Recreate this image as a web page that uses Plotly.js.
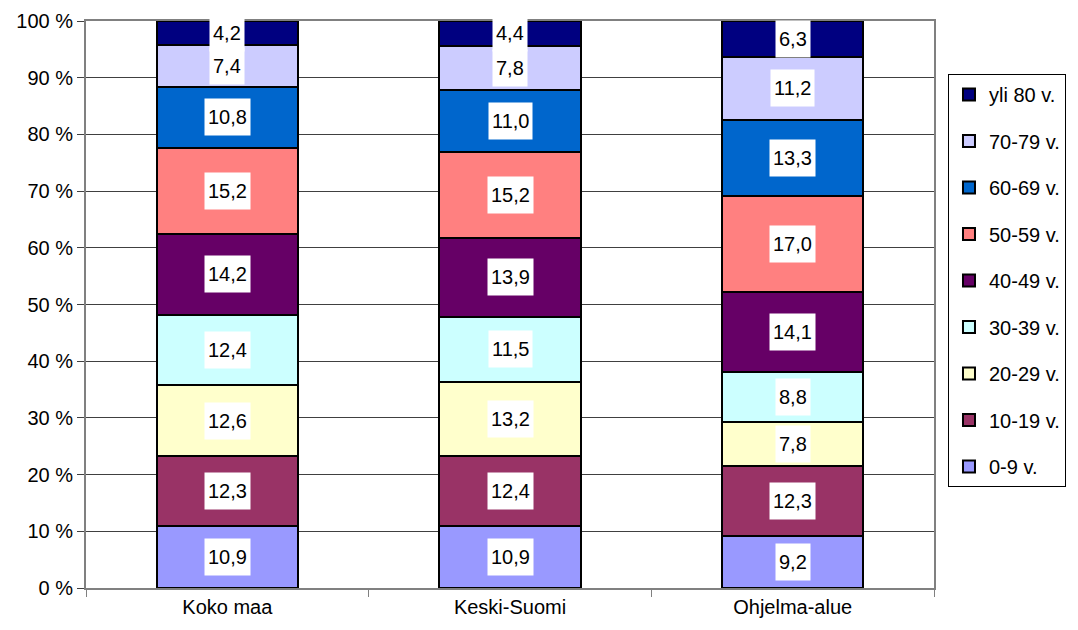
<!DOCTYPE html>
<html>
<head>
<meta charset="utf-8">
<script src="https://cdn.plot.ly/plotly-3.0.1.min.js"></script>
<style>
html,body{margin:0;padding:0;background:#fff;}
#chart{width:1078px;height:630px;}
</style>
</head>
<body>
<div id="chart"></div>
<script>
const categories = ["Koko maa", "Keski-Suomi", "Ohjelma-alue"];
const seriesNames = ["0-9 v.", "10-19 v.", "20-29 v.", "30-39 v.", "40-49 v.", "50-59 v.", "60-69 v.", "70-79 v.", "yli 80 v."];
const age0_9   = [10.9, 10.9, 9.2];
const age10_19 = [12.3, 12.4, 12.3];
const age20_29 = [12.6, 13.2, 7.8];
const age30_39 = [12.4, 11.5, 8.8];
const age40_49 = [14.2, 13.9, 14.1];
const age50_59 = [15.2, 15.2, 17.0];
const age60_69 = [10.8, 11.0, 13.3];
const age70_79 = [7.4, 7.8, 11.2];
const ageOver80 = [4.2, 4.4, 6.3];
const yTickVals = [0, 10, 20, 30, 40, 50, 60, 70, 80, 90, 100];

const seriesValues = [age0_9, age10_19, age20_29, age30_39, age40_49, age50_59, age60_69, age70_79, ageOver80];
const colors = ["#9999FF", "#993366", "#FFFFCC", "#CCFFFF", "#660066", "#FF8080", "#0066CC", "#CCCCFF", "#000080"];

const FONT = "Liberation Sans, Arial, sans-serif";

const traces = seriesValues.map((vals, i) => ({
  type: "bar",
  name: seriesNames[i],
  x: categories,
  y: vals,
  legendgroup: "g" + i,
  legendrank: 100 * (seriesValues.length - i),
  marker: {color: colors[i], line: {color: "#000000", width: 2}},
  hoverinfo: "none"
}));

const annotations = [];
categories.forEach((cat, ci) => {
  let total = 0;
  seriesValues.forEach(v => total += v[ci]);
  let cum = 0;
  seriesValues.forEach((v, si) => {
    const val = v[ci];
    const mid = (cum + val / 2) / total * 100;
    cum += val;
    annotations.push({
      x: cat, y: mid, xref: "x", yref: "y",
      text: val.toFixed(1).replace(".", ","),
      showarrow: false,
      bgcolor: "#FFFFFF",
      borderpad: 3,
      height: 30,
      font: {family: FONT, size: 20, color: "#000000"}
    });
  });
});

const layout = {
  width: 1078, height: 630,
  margin: {l: 86, r: 142, t: 21, b: 42, pad: 0},
  paper_bgcolor: "#FFFFFF",
  plot_bgcolor: "#FFFFFF",
  barmode: "stack",
  barnorm: "percent",
  bargap: 0.5,
  font: {family: FONT, size: 20, color: "#000000"},
  xaxis: {
    type: "category",
    tickson: "boundaries",
    ticks: "outside",
    ticklen: 7,
    tickcolor: "#808080",
    tickwidth: 1,
    showline: true,
    linecolor: "#808080",
    linewidth: 2,
    mirror: true,
    showgrid: false,
    tickfont: {family: FONT, size: 20, color: "#000000"}
  },
  yaxis: {
    range: [0, 100],
    tickvals: yTickVals,
    ticktext: yTickVals.map(v => v + " %"),
    ticks: "outside",
    ticklen: 7,
    tickcolor: "#404040",
    showline: true,
    linecolor: "#808080",
    linewidth: 2,
    mirror: true,
    showgrid: true,
    gridcolor: "#404040",
    gridwidth: 1,
    zeroline: false,
    tickfont: {family: FONT, size: 20, color: "#000000"}
  },
  showlegend: true,
  legend: {
    x: 1.0165, xanchor: "left",
    y: 0.9065, yanchor: "top",
    traceorder: "grouped",
    tracegroupgap: 17.5,
    bordercolor: "#000000",
    borderwidth: 1,
    bgcolor: "#FFFFFF",
    font: {family: FONT, size: 20, color: "#000000"}
  },
  annotations: annotations
};

Plotly.newPlot("chart", traces, layout, {displayModeBar: false, staticPlot: true});
</script>
</body>
</html>
